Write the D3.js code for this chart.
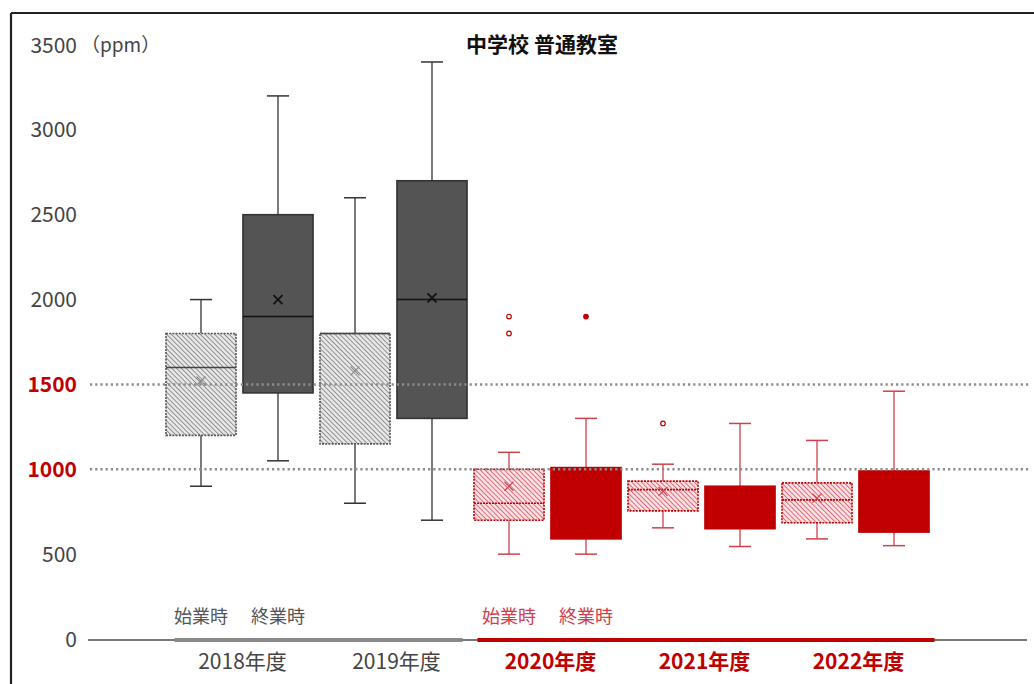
<!DOCTYPE html>
<html><head><meta charset="utf-8">
<script src="https://cdn.jsdelivr.net/npm/d3@7"></script>
<style>
html,body{margin:0;padding:0;background:#fff;}
svg{display:block;font-family:"Noto Sans CJK JP","Noto Sans",sans-serif;}
</style></head>
<body>
<svg id="chart" width="1034" height="684"></svg>
<script>
// ---- data ----
const title = "中学校 普通教室";
const years = ["2018年度","2019年度","2020年度","2021年度","2022年度"];
const sessions = ["始業時","終業時"];
const yTicks = [0,500,1000,1500,2000,2500,3000,3500];
const refLines = [1000,1500];
const unitLabel = "（ppm）";

const startMin    = [900, 800, 500, 655, 590];
const startQ1     = [1200,1150, 700, 755, 685];
const startMedian = [1600,1800, 800, 880, 820];
const startQ3     = [1800,1800,1000, 930, 920];
const startMax    = [2000,2600,1100,1030,1170];
const startMean   = [1520,1580, 900, 870, 830];
const startOutliers = [[],[],[1900,1800],[1270],[]];

const endMin    = [1050, 700, 500, 545, 550];
const endQ1     = [1450,1300, 590, 650, 630];
const endMedian = [1900,2000, 800, 780, 800];
const endQ3     = [2500,2700,1010, 900, 990];
const endMax    = [3200,3400,1300,1270,1460];
const endMean   = [2000,2010, 830, 790, 830];
const endOutliers = [[],[],[1900],[],[]];

const redYears = ["2020年度","2021年度","2022年度"];

// ---- build ----
const svg = d3.select("#chart");
const defs = svg.append("defs");
function hatch(id, bg, fg){
  const p = defs.append("pattern").attr("id",id).attr("patternUnits","userSpaceOnUse")
    .attr("width",3.4).attr("height",3.4).attr("patternTransform","rotate(-45)");
  p.append("rect").attr("width",3.4).attr("height",3.4).attr("fill",bg);
  p.append("line").attr("x1",0).attr("y1",0).attr("x2",0).attr("y2",3.4)
    .attr("stroke",fg).attr("stroke-width",1.2);
}
hatch("hatchGray","#e6e6e6","#5e5e5e");
hatch("hatchRed","#fbdfe2","#d02c3c");

const y = d3.scaleLinear().domain([0,3500]).range([639,45]);
const x = d3.scaleBand().domain(years).range([162.5,932.5]).padding(0);
const xs = d3.scaleBand().domain(sessions).range([0,x.bandwidth()]).paddingInner(0.09).paddingOuter(0.045);

// frame
svg.append("line").attr("x1",11).attr("x2",1034).attr("y1",13).attr("y2",13).attr("stroke","#222").attr("stroke-width",2.2);
svg.append("line").attr("x1",11).attr("x2",11).attr("y1",13).attr("y2",684).attr("stroke","#222").attr("stroke-width",2.2);

// title
svg.append("text").attr("x",542).attr("y",45).attr("dy","0.35em").attr("text-anchor","middle")
  .attr("font-size",21).attr("font-weight","bold").attr("fill","#111").text(title);

// y tick labels
yTicks.forEach(t=>{
  const isRef = refLines.includes(t);
  svg.append("text").attr("x",77).attr("y",y(t)).attr("dy","0.36em").attr("text-anchor","end")
    .attr("font-size",21).attr("font-weight",isRef?"bold":"normal")
    .attr("fill",isRef?"#c00000":"#444").text(t);
});
svg.append("text").attr("x",81).attr("y",y(3500)).attr("dy","0.36em").attr("font-size",19)
  .attr("fill","#444").text(unitLabel);

// baseline
svg.append("line").attr("x1",88).attr("x2",1027).attr("y1",y(0)+1).attr("y2",y(0)+1)
  .attr("stroke","#777").attr("stroke-width",2);
svg.append("line").attr("x1",x(years[0])+12).attr("x2",x(years[1])+x.bandwidth()-8)
  .attr("y1",y(0)+1).attr("y2",y(0)+1).attr("stroke","#8a8a8a").attr("stroke-width",4);
svg.append("line").attr("x1",x(years[2])+7).attr("x2",x(years[4])+x.bandwidth()+2)
  .attr("y1",y(0)+1).attr("y2",y(0)+1).attr("stroke","#c00000").attr("stroke-width",4);

// session labels
[[years[0],"#555"],[years[2],"#d0404c"]].forEach(([yr,col])=>{
  sessions.forEach(s=>{
    svg.append("text").attr("x",x(yr)+xs(s)+xs.bandwidth()/2).attr("y",617).attr("dy","0.35em")
      .attr("text-anchor","middle").attr("font-size",18).attr("fill",col).text(s);
  });
});

// year labels
years.forEach(yr=>{
  const red = redYears.includes(yr);
  svg.append("text").attr("x",x(yr)+x.bandwidth()/2+3).attr("y",662).attr("dy","0.35em")
    .attr("text-anchor","middle").attr("font-size",21).attr("font-weight",red?"bold":"normal")
    .attr("fill",red?"#c00000":"#444").text(yr);
});

// boxes
const boxes = [];
years.forEach((yr,i)=>{
  boxes.push({yr,s:sessions[0],min:startMin[i],q1:startQ1[i],med:startMedian[i],q3:startQ3[i],max:startMax[i],mean:startMean[i],out:startOutliers[i],red:redYears.includes(yr),start:true});
  boxes.push({yr,s:sessions[1],min:endMin[i],q1:endQ1[i],med:endMedian[i],q3:endQ3[i],max:endMax[i],mean:endMean[i],out:endOutliers[i],red:redYears.includes(yr),start:false});
});
const g = svg.append("g");
boxes.forEach(b=>{
  const x0 = x(b.yr)+xs(b.s), w = xs.bandwidth(), cx = x0+w/2;
  const wcol = b.red ? "#d0404c" : "#333";
  const cap = 11;
  g.append("line").attr("x1",cx).attr("x2",cx).attr("y1",y(b.max)).attr("y2",y(b.q3)).attr("stroke",wcol).attr("stroke-width",1.3);
  g.append("line").attr("x1",cx).attr("x2",cx).attr("y1",y(b.q1)).attr("y2",y(b.min)).attr("stroke",wcol).attr("stroke-width",1.3);
  g.append("line").attr("x1",cx-cap).attr("x2",cx+cap).attr("y1",y(b.max)).attr("y2",y(b.max)).attr("stroke",wcol).attr("stroke-width",1.5);
  g.append("line").attr("x1",cx-cap).attr("x2",cx+cap).attr("y1",y(b.min)).attr("y2",y(b.min)).attr("stroke",wcol).attr("stroke-width",1.5);
  let fill, stroke, dash=null, medCol, meanCol;
  if(b.start){
    fill = b.red ? "url(#hatchRed)" : "url(#hatchGray)";
    stroke = b.red ? "#c00000" : "#555";
    dash = "2,1.2";
    medCol = b.red ? "#c00000" : "#444";
    meanCol = b.red ? "#d0404c" : "#888";
  } else {
    fill = b.red ? "#c00000" : "#545454";
    stroke = b.red ? "#c00000" : "#333";
    medCol = b.red ? "#c00000" : "#111";
    meanCol = b.red ? "#c00000" : "#111";
  }
  g.append("rect").attr("x",x0).attr("y",y(b.q3)).attr("width",w).attr("height",y(b.q1)-y(b.q3))
    .attr("fill",fill).attr("stroke",stroke).attr("stroke-width",1.6).attr("stroke-dasharray",dash);
  g.append("line").attr("x1",x0).attr("x2",x0+w).attr("y1",y(b.med)).attr("y2",y(b.med))
    .attr("stroke",medCol).attr("stroke-width",1.6).attr("stroke-dasharray",b.red&&b.start?"2,1":null);
  const m=4.5, my=y(b.mean);
  g.append("path").attr("d",`M${cx-m},${my-m}L${cx+m},${my+m}M${cx-m},${my+m}L${cx+m},${my-m}`)
    .attr("stroke",meanCol).attr("stroke-width",b.start?1.2:1.8);
  b.out.forEach(o=>{
    g.append("circle").attr("cx",cx).attr("cy",y(o)).attr("r",2.3)
      .attr("fill",b.start?"#fff":"#b00010").attr("stroke",b.red?"#c00000":"#333").attr("stroke-width",1.2);
  });
});

// reference dotted lines
refLines.forEach(v=>{
  svg.append("line").attr("x1",90).attr("x2",1030).attr("y1",y(v)).attr("y2",y(v))
    .attr("stroke","#8c8c8c").attr("stroke-width",2.6).attr("stroke-dasharray","2.2,3");
});
</script>
</body></html>
